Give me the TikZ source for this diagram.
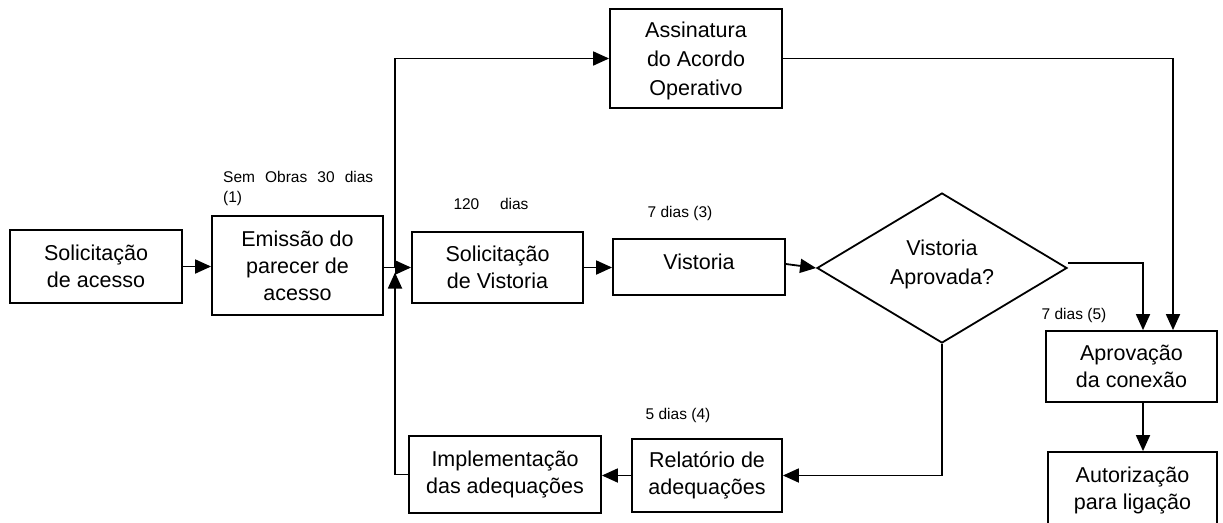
\documentclass[tikz,border=0pt]{standalone}
\usepackage{fontspec}
\setmainfont{Liberation Sans}
\usetikzlibrary{arrows.meta,shapes.geometric}
\tikzset{
  box/.style={draw=black, line width=1.8pt, align=center, inner sep=0pt, font=\fontsize{21.5}{27}\selectfont},
  decision/.style={diamond, draw=black, line width=1.8pt, align=center, inner sep=0pt, aspect=1.667, minimum width=250pt, minimum height=150pt, font=\fontsize{21.5}{29}\selectfont},
  arr/.style={-{Triangle[length=16pt,width=14pt]}, line width=1.8pt},
  note/.style={inner sep=0pt, font=\fontsize{15.5}{18}\selectfont}
}

\begin{document}
\begin{tikzpicture}[x=1pt, y=-1pt]
  \useasboundingbox (0,0) rectangle (1223,522);

  % process boxes
  \node[box, minimum width=172pt, minimum height=73pt] (acesso) at (96,266.5) {Solicitação\\de acesso};
  \node[box, minimum width=171pt, minimum height=99pt] (parecer) at (297.5,265.5) {Emissão do\\parecer de\\acesso};
  \node[box, minimum width=171pt, minimum height=71pt] (solvist) at (497.5,267.5) {Solicitação\\de Vistoria};
  \node[box, minimum width=172pt, minimum height=56pt, text depth=10pt] (vistoria) at (699,267) {Vistoria};
  \node[box, minimum width=172pt, minimum height=99pt, text depth=0pt, font=\fontsize{21.5}{29}\selectfont] (assin) at (696,58.5) {Assinatura\\do Acordo\\Operativo};
  \node[decision, text depth=11pt] (dec) at (942,268) {Vistoria\\Aprovada?};
  \node[box, minimum width=171pt, minimum height=71pt] (aprov) at (1131.5,366.5) {Aprovação\\da conexão};
  \node[box, minimum width=169pt, minimum height=76pt] (autor) at (1132.5,490) {Autorização\\para ligação};
  \node[box, minimum width=150pt, minimum height=73pt] (relat) at (707,475.5) {Relatório de\\adequações};
  \node[box, minimum width=192pt, minimum height=77pt] (impl) at (505,474.5) {Implementação\\das adequações};

  % durations
  \node[note, anchor=west] (obras) at (223,177) {\makebox[150pt][s]{Sem Obras 30 dias}};
  \node[note, anchor=west] (obrasnum) at (223,198) {(1)};
  \node[note] (t120) at (491,204) {\makebox[75pt][s]{120 dias}};
  \node[note] (t3) at (680,213) {7 dias (3)};
  \node[note] (t4) at (678,415) {5 dias (4)};
  \node[note] (t5) at (1074,315) {7 dias (5)};

  % connectors
  \coordinate (fork) at (395,267.5);
  \draw[arr] (acesso.east) -- (acesso.east -| parecer.west);
  \draw[arr] (parecer.east |- solvist.west) -- (solvist.west);
  \draw[arr] (fork) |- (assin.west);
  \draw[arr] (impl.west) -| ([yshift=-5pt]fork);
  \draw[arr] (solvist.east) -- (solvist.east -| vistoria.west);
  \draw[arr] ([yshift=3pt]vistoria.east) -- (dec.west);
  \draw[arr] ([yshift=5pt]dec.east) -| ([xshift=11.5pt]aprov.north);
  \draw[arr] (assin.east) -| ([xshift=41.5pt]aprov.north);
  \draw[arr] ([xshift=11.5pt]aprov.south) -- ([xshift=11.5pt]aprov.south |- autor.north);
  \draw[arr] (dec.south) |- (relat.east);
  \draw[arr] (relat.west) -- (relat.west -| impl.east);
\end{tikzpicture}
\end{document}
